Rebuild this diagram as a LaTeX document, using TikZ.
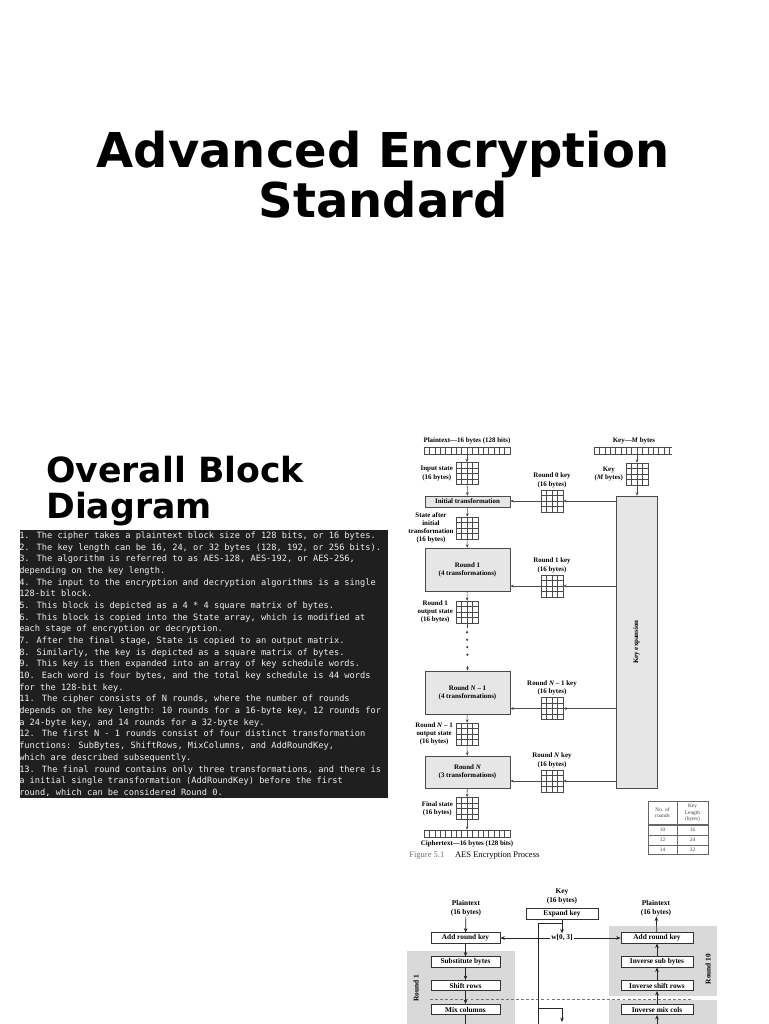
\documentclass[tikz,border=0pt]{standalone}
\usepackage{fontspec}
\setmainfont{Liberation Serif}
\newfontfamily\slidefont{DejaVu Sans}
\newfontfamily\notefont{DejaVu Sans Mono}
\usepackage{xcolor}
\usetikzlibrary{arrows.meta,positioning,calc}

\definecolor{notebg}{HTML}{1F1F1F}
\definecolor{notetxt}{HTML}{F0F0F0}
\definecolor{boxgray}{HTML}{E6E6E6}
\definecolor{bandgray}{HTML}{D9D9D9}
\definecolor{linegray}{HTML}{4A4A4A}

\newcommand{\figfont}{\fontsize{5.2}{6.1}\selectfont\bfseries}
\newcommand{\flowfont}{\fontsize{5.5}{6.8}\selectfont\bfseries}

\begin{document}
\begin{tikzpicture}[
  x=0.75pt, y=-0.75pt,
  >={Stealth[length=2.6pt,width=2.1pt]},
  % state / key matrices and byte strips
  grid4/.style={draw=linegray, fill=white, line width=0.35pt, minimum size=16.5pt,
                inner sep=0pt,
                path picture={\foreach \k in {0.25,0.5,0.75}{
                  \draw[linegray, line width=0.35pt]
                    ($(path picture bounding box.south west)!\k!(path picture bounding box.south east)$) --
                    ($(path picture bounding box.north west)!\k!(path picture bounding box.north east)$)
                    ($(path picture bounding box.south west)!\k!(path picture bounding box.north west)$) --
                    ($(path picture bounding box.south east)!\k!(path picture bounding box.north east)$);}}},
  bytes/.style={draw=linegray, line width=0.35pt, minimum height=5.2pt, inner sep=0pt,
                path picture={\foreach \k in {1,...,#1}{
                  \draw[linegray, line width=0.35pt]
                    ($(path picture bounding box.south west)+(\k*4.03pt,0)$) --
                    ($(path picture bounding box.north west)+(\k*4.03pt,0)$);}}},
  lbl/.style={font=\figfont, align=center, inner sep=0.5pt},
  rbox/.style={draw=linegray, fill=boxgray, line width=0.4pt, font=\figfont,
               align=center, minimum width=63.75pt, inner sep=0pt},
  arr/.style={->, draw=linegray, line width=0.4pt},
  dotline/.style={draw=linegray, line width=1.9pt, line cap=round,
                  dash pattern=on 0pt off 5.6pt},
  % lower flow chart
  fbox/.style={draw=black!80, fill=white, line width=0.5pt, font=\flowfont,
               minimum height=7.8pt, inner sep=0pt},
  band/.style={fill=bandgray, inner sep=0pt, anchor=north west},
  barr/.style={-{Stealth[length=3.3pt,width=2.7pt]}, draw=black!85, line width=0.5pt},
  tcell/.style={font=\fontsize{4}{4.7}\selectfont, align=center, inner sep=0pt,
                text=black!75},
]
\useasboundingbox (0,0) rectangle (768,1024);
\clip (0,0) rectangle (768,1024);
\fill[white] (0,0) rectangle (768,1024);

%% ── Slide titles ─────────────────────────────────────────────────
\node[font=\slidefont\bfseries\fontsize{36}{37.5}\selectfont, align=center]
  (title) at (383,175) {Advanced Encryption\\Standard};
\node[font=\slidefont\bfseries\fontsize{26}{27}\selectfont, align=left,
      anchor=north west, inner sep=0pt]
  (subtitle) at (46,455.5) {Overall Block\\Diagram};

%% ── Notes panel ──────────────────────────────────────────────────
\node[fill=notebg, anchor=north west, inner sep=0pt,
      minimum width=276pt, minimum height=201pt] (notesbg) at (20,530) {};
\node[font=\notefont\fontsize{6.5}{8.76}\selectfont, text=notetxt, align=left,
      anchor=north west, inner sep=0pt] (notes) at (19,531.5) {%
1. The cipher takes a plaintext block size of 128 bits, or 16 bytes.\\
2. The key length can be 16, 24, or 32 bytes (128, 192, or 256 bits).\\
3. The algorithm is referred to as AES-128, AES-192, or AES-256,\\
depending on the key length.\\
4. The input to the encryption and decryption algorithms is a single\\
128-bit block.\\
5. This block is depicted as a 4 * 4 square matrix of bytes.\\
6. This block is copied into the State array, which is modified at\\
each stage of encryption or decryption.\\
7. After the final stage, State is copied to an output matrix.\\
8. Similarly, the key is depicted as a square matrix of bytes.\\
9. This key is then expanded into an array of key schedule words.\\
10. Each word is four bytes, and the total key schedule is 44 words\\
for the 128-bit key.\\
11. The cipher consists of N rounds, where the number of rounds\\
depends on the key length: 10 rounds for a 16-byte key, 12 rounds for\\
a 24-byte key, and 14 rounds for a 32-byte key.\\
12. The first N - 1 rounds consist of four distinct transformation\\
functions: SubBytes, ShiftRows, MixColumns, and AddRoundKey,\\
which are described subsequently.\\
13. The final round contains only three transformations, and there is\\
a initial single transformation (AddRoundKey) before the first\\
round, which can be considered Round 0.};

%% ── AES encryption process: data column ──────────────────────────
\node[lbl] (ptlabel) at (467,441) {Plaintext—16 bytes (128 bits)};
\node[bytes=15, minimum width=64.5pt] (ptbytes) at (467,450.5) {};
\node[grid4] (ingrid) at (467,473.5) {};
\node[lbl, left=1.5pt of ingrid] (inlabel) {Input state\\(16 bytes)};
\node[rbox, minimum height=8.25pt] (initbox) at (467.5,501.5) {Initial transformation};
\node[grid4] (s0grid) at (467,528) {};
\node[lbl, left=1pt of s0grid] (s0label) {State after\\initial\\transformation\\(16 bytes)};
\node[rbox, minimum height=32.25pt] (round1) at (467.5,569.5) {Round 1\\(4 transformations)};
\node[grid4] (o1grid) at (467,612) {};
\node[lbl, left=1.5pt of o1grid] (o1label) {Round 1\\output state\\(16 bytes)};
\node[rbox, minimum height=32.25pt] (roundn1) at (467.5,692.5) {Round \textit{N} – 1\\(4 transformations)};
\node[grid4] (on1grid) at (467,734) {};
\node[lbl, left=1.5pt of on1grid] (on1label) {Round \textit{N} – 1\\output state\\(16 bytes)};
\node[rbox, minimum height=24pt] (roundn) at (467.5,772) {Round \textit{N}\\(3 transformations)};
\node[grid4] (fgrid) at (467,808.5) {};
\node[lbl, left=1.5pt of fgrid] (flabel) {Final state\\(16 bytes)};
\node[bytes=15, minimum width=64.5pt] (ctbytes) at (467,833.5) {};
\node[lbl] (ctlabel) at (467,843.5) {Ciphertext—16 bytes (128 bits)};
\node[font=\fontsize{6.4}{7}\selectfont, anchor=west, inner sep=0pt]
  (figcap) at (409,856) {\textcolor{black!55}{Figure 5.1}\hspace{8pt}AES Encryption Process};

%% ── Key column ───────────────────────────────────────────────────
\node[lbl] (keylabel) at (634,441) {Key—\textit{M} bytes};
\node[bytes=14, draw=none, minimum width=58.5pt] (keybytes) at (633,450.5) {};
\draw[linegray, line width=0.35pt]
  (keybytes.north east) -- (keybytes.north west) -- (keybytes.south west) -- (keybytes.south east);
\node[grid4] (keygrid) at (637,474) {};
\node[lbl, left=1.5pt of keygrid] (keylbl) {Key\\(\textit{M} bytes)};
\node[draw=linegray, fill=boxgray, line width=0.4pt, minimum width=30.75pt,
      minimum height=219pt, inner sep=0pt] (keyexp) at (636.5,642) {};
\node[lbl, rotate=90] (keyexplabel) at (keyexp.center) {Key expansion};

\node[grid4] (k0grid)  at (552,501)   {};
\node[grid4] (k1grid)  at (552,586)   {};
\node[grid4] (kn1grid) at (552,708.5) {};
\node[grid4] (kngrid)  at (552,781)   {};
\node[lbl, above=1pt of k0grid]  (k0label)  {Round 0 key\\(16 bytes)};
\node[lbl, above=1pt of k1grid]  (k1label)  {Round 1 key\\(16 bytes)};
\node[lbl, above=1pt of kn1grid] (kn1label) {Round \textit{N} – 1 key\\(16 bytes)};
\node[lbl, above=1pt of kngrid]  (knlabel)  {Round \textit{N} key\\(16 bytes)};

%% ── Number of rounds table ───────────────────────────────────────
\node[draw=black!60, line width=0.4pt, minimum width=45pt, minimum height=39.75pt,
      anchor=north west, inner sep=0pt] (rtable) at (648,801) {};
\draw[black!60, line width=0.4pt] (677,801) -- (677,854);
\draw[black!60, line width=0.8pt] (648,825) -- (708,825);
\draw[black!60, line width=0.4pt] (648,835) -- (708,835) (648,845) -- (708,845);
\node[tcell] (thrnd) at (662.5,813) {No. of\\rounds};
\node[tcell] (thkey) at (692.5,813) {Key\\Length\\(bytes)};
\foreach \r/\b/\y in {10/16/830, 12/24/840, 14/32/849.5}{
  \node[tcell] (tr\r) at (662.5,\y) {\r};
  \node[tcell] (tk\r) at (692.5,\y) {\b};
}

%% ── Data path arrows ─────────────────────────────────────────────
\draw[arr] (ptbytes) -- (ingrid);
\draw[arr] (ingrid) -- (initbox);
\draw[arr] (initbox) -- (s0grid);
\draw[arr] (s0grid) -- (round1);
\draw[arr] (round1) -- (o1grid);
\draw[linegray, line width=0.4pt] (o1grid.south) -- ++(0,5);
\draw[dotline] ($(o1grid.south)+(0,9)$) -- ($(roundn1.north)+(0,-9)$);
\draw[arr] ($(roundn1.north)+(0,-5)$) -- (roundn1.north);
\draw[arr] (roundn1) -- (on1grid);
\draw[arr] (on1grid) -- (roundn);
\draw[arr] (roundn) -- (fgrid);
\draw[arr] (fgrid) -- (ctbytes);

%% ── Key path arrows ──────────────────────────────────────────────
\draw[arr] (keygrid.north |- keybytes.south) -- (keygrid);
\draw[arr] (keygrid) -- (keygrid |- keyexp.north);
\foreach \g/\t in {k0grid/initbox, k1grid/round1, kn1grid/roundn1, kngrid/roundn}{
  \draw[arr] (keyexp.west |- \g) -- (\g.east);
  \draw[arr] (\g.west) -- (\g.west -| \t.east);
}

%% ── Encryption / decryption flow (lower figure) ──────────────────
\node[band, minimum width=81pt, minimum height=60pt]   (r1band)  at (407,951)  {};
\node[band, minimum width=81pt, minimum height=52.5pt] (r10band) at (609,926)  {};
\node[band, minimum width=81pt, minimum height=24pt]   (r9band)  at (609,1000) {};
\node[font=\flowfont, rotate=90, inner sep=0pt] (r1label)  at (416,988) {Round 1};
\node[font=\flowfont, rotate=90, inner sep=0pt] (r10label) at (708,969) {Round 10};
\draw[black!55, line width=0.5pt, dash pattern=on 2.2pt off 1.6pt] (430,999) -- (693,999);

\node[font=\flowfont, align=center, inner sep=0pt] (keyin) at (562,896) {Key\\(16 bytes)};
\node[fbox, minimum width=54pt] (expand) at (562,914) {Expand key};
\node[font=\flowfont, align=center, inner sep=0pt] (ptin)  at (466,908.5) {Plaintext\\(16 bytes)};
\node[font=\flowfont, align=center, inner sep=0pt] (ptout) at (656,908.5) {Plaintext\\(16 bytes)};
\node[font=\flowfont, inner sep=1pt] (wkey) at (562,938) {w[0, 3]};

\node[fbox, minimum width=51.75pt] (ark)   at (465.5,938)    {Add round key};
\node[fbox, minimum width=51.75pt] (sub)   at (465.5,962)    {Substitute bytes};
\node[fbox, minimum width=51.75pt] (shift) at (465.5,985.5)  {Shift rows};
\node[fbox, minimum width=51.75pt] (mix)   at (465.5,1009.5) {Mix columns};
\node[fbox, minimum width=54pt] (iark)   at (657,938)    {Add round key};
\node[fbox, minimum width=54pt] (isub)   at (657,962)    {Inverse sub bytes};
\node[fbox, minimum width=54pt] (ishift) at (657,985.5)  {Inverse shift rows};
\node[fbox, minimum width=54pt] (imix)   at (657,1009.5) {Inverse mix cols};

\coordinate (busTop) at (538,923);
\coordinate (busTap) at (538,1008);
\coordinate (busBot) at (538,1030);
\coordinate (tapEnd) at (562,1022);
\coordinate (mixOut) at (465.5,1032);
\coordinate (imixIn) at (657,1032);

\draw[barr] (ptin) -- (ark);
\draw[barr] (ark) -- (sub);
\draw[barr] (sub) -- (shift);
\draw[barr] (shift) -- (mix);
\draw[barr] (mix) -- (mixOut);
\draw[barr] (iark) -- (ptout);
\draw[barr] (isub) -- (iark);
\draw[barr] (ishift) -- (isub);
\draw[barr] (imix) -- (ishift);
\draw[barr] (imixIn) -- (imix);
\draw[barr] (expand) -- (wkey);
\draw[barr] (wkey) -- (ark);
\draw[barr] (wkey) -- (iark);
\draw[black!85, line width=0.5pt] (busTop) -- (busTop -| wkey) (busTop) -- (busBot);
\draw[barr] (busTap) -- (busTap -| tapEnd) -- (tapEnd);

\end{tikzpicture}
\end{document}
